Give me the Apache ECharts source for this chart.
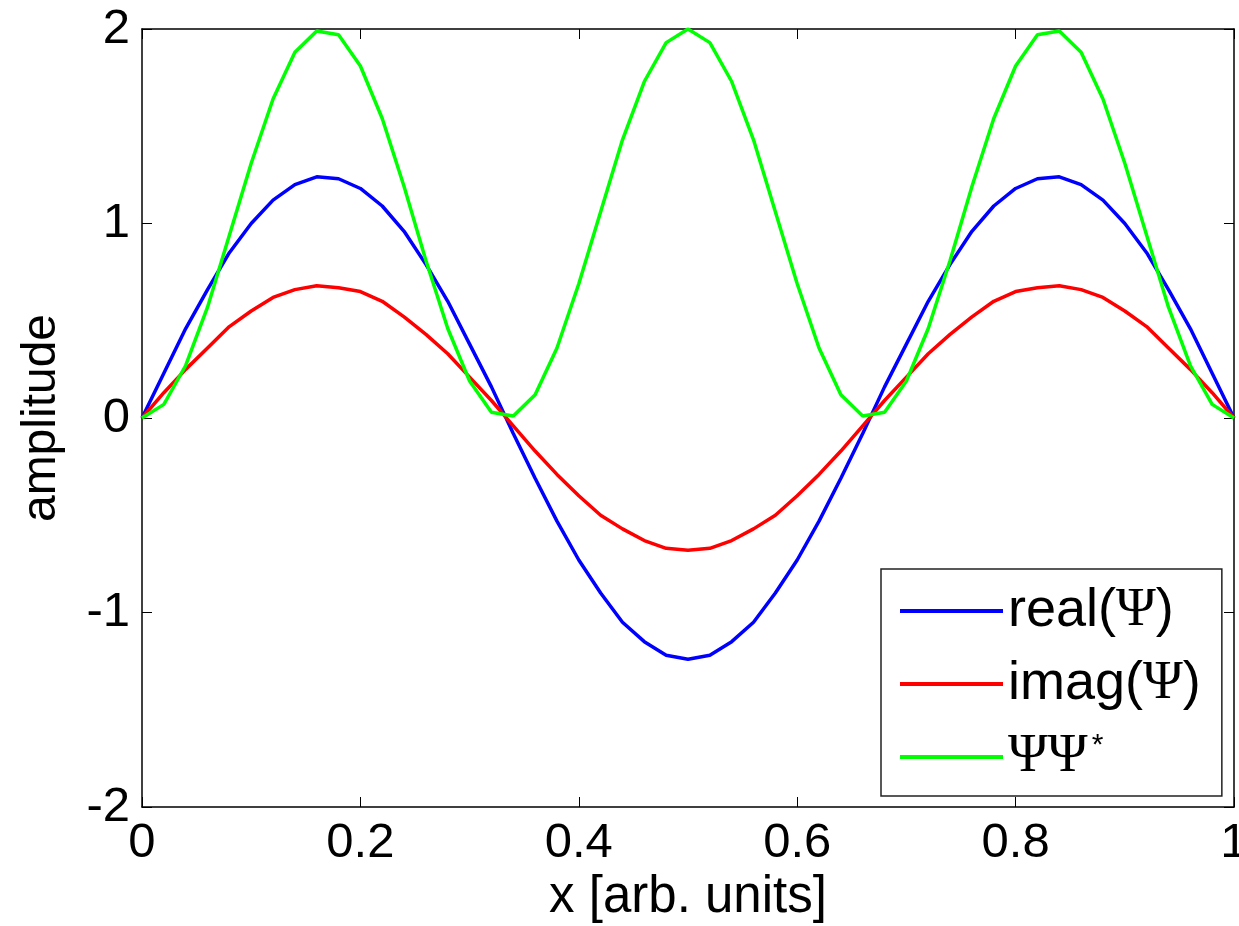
<head>
    <meta charset="UTF-8">
    <title>Echarts</title>
    <script type="text/javascript" src="https://cdn.jsdelivr.net/npm/echarts@6/dist/echarts.min.js"></script>
</head>
<body style="margin:0;background:#fff;">
    <div id="main" style="width: 1239px;height:926px;"></div>
    <script type="text/javascript">
// x positions (arb. units)
var xValues = [0, 0.02, 0.04, 0.06, 0.08, 0.10, 0.12, 0.14, 0.16, 0.18, 0.20, 0.22, 0.24, 0.26, 0.28, 0.30, 0.32, 0.34,
  0.36, 0.38, 0.40, 0.42, 0.44, 0.46, 0.48, 0.50, 0.52, 0.54, 0.56, 0.58, 0.60, 0.62, 0.64, 0.66,
  0.68, 0.70, 0.72, 0.74, 0.76, 0.78, 0.80, 0.82, 0.84, 0.86, 0.88, 0.90, 0.92, 0.94, 0.96, 0.98, 1.00];

var realPsi = [0, 0.23, 0.46, 0.66, 0.85, 1.00, 1.12, 1.20, 1.24, 1.23, 1.18, 1.09, 0.96, 0.79, 0.60, 0.38, 0.16, -0.08,
  -0.31, -0.53, -0.73, -0.90, -1.05, -1.15, -1.22, -1.24, -1.22, -1.15, -1.05, -0.90, -0.73, -0.53, -0.31, -0.08,
  0.16, 0.38, 0.60, 0.79, 0.96, 1.09, 1.18, 1.23, 1.24, 1.20, 1.12, 1.00, 0.85, 0.66, 0.46, 0.23, 0];

var imagPsi = [0, 0.13, 0.25, 0.36, 0.47, 0.55, 0.62, 0.66, 0.68, 0.67, 0.65, 0.60, 0.52, 0.43, 0.33, 0.21, 0.09, -0.04,
  -0.17, -0.29, -0.40, -0.50, -0.57, -0.63, -0.67, -0.68, -0.67, -0.63, -0.57, -0.50, -0.40, -0.29, -0.17, -0.04,
  0.09, 0.21, 0.33, 0.43, 0.52, 0.60, 0.65, 0.67, 0.68, 0.66, 0.62, 0.55, 0.47, 0.36, 0.25, 0.13, 0];

var psiPsiStar = [0, 0.07, 0.27, 0.57, 0.94, 1.31, 1.64, 1.88, 1.99, 1.97, 1.81, 1.54, 1.19, 0.81, 0.46, 0.19, 0.03, 0.01,
  0.12, 0.36, 0.69, 1.06, 1.43, 1.73, 1.93, 2.00, 1.93, 1.73, 1.43, 1.06, 0.69, 0.36, 0.12, 0.01,
  0.03, 0.19, 0.46, 0.81, 1.19, 1.54, 1.81, 1.97, 1.99, 1.88, 1.64, 1.31, 0.94, 0.57, 0.27, 0.07, 0];

var seriesNames = ['real(Ψ)', 'imag(Ψ)', 'ΨΨ*'];

function pairs(ys) {
  return xValues.map(function (x, i) { return [x, ys[i]]; });
}

var myChart = echarts.init(document.getElementById('main'));

var font = 'Liberation Sans, Arial, sans-serif';
var tickStyle = { show: true, inside: true, length: 10, lineStyle: { color: '#000', width: 1 } };
var lineStyle = { show: true, onZero: false, lineStyle: { color: '#000', width: 1.5 } };

option = {
  backgroundColor: '#fff',
  animation: false,
  textStyle: { fontFamily: font },
  grid: { left: 142, right: 5, top: 29, bottom: 119, outerBoundsMode: 'none', containLabel: false },
  legend: {
    orient: 'vertical',
    left: 881,
    top: 569,
    padding: [15, 21, 12, 19],
    icon: 'rect',
    itemWidth: 103,
    itemHeight: 4,
    itemGap: 19,
    backgroundColor: '#fff',
    borderColor: '#222',
    borderWidth: 1.5,
    borderRadius: 0,
    data: seriesNames,
    formatter: function (name) {
      if (name === 'real(Ψ)') return '{t|real(}{p|Ψ}{t|)}';
      if (name === 'imag(Ψ)') return '{t|imag(}{p|Ψ}{t|)}';
      return '{p|ΨΨ}{s|*}';
    },
    textStyle: {
      color: '#000',
      rich: {
        t: { fontFamily: font, fontSize: 54, lineHeight: 52, color: '#000' },
        p: { fontFamily: 'Liberation Serif, Times New Roman, serif', fontSize: 54, lineHeight: 52, color: '#000' },
        s: { fontFamily: font, fontSize: 30, lineHeight: 52, verticalAlign: 'top', padding: [0, 0, 0, 4], color: '#000' }
      }
    }
  },
  xAxis: [
    {
      type: 'value', min: 0, max: 1, interval: 0.2, position: 'bottom',
      name: 'x [arb. units]', nameLocation: 'middle', nameGap: 50,
      nameTextStyle: { fontSize: 51, color: '#000', fontFamily: font },
      axisLine: lineStyle, axisTick: tickStyle,
      axisLabel: { fontSize: 49, color: '#000', margin: 12, fontFamily: font },
      splitLine: { show: false }
    },
    {
      type: 'value', min: 0, max: 1, interval: 0.2, position: 'top',
      axisLine: lineStyle, axisTick: tickStyle,
      axisLabel: { show: false }, splitLine: { show: false }
    }
  ],
  yAxis: [
    {
      type: 'value', min: -2, max: 2, interval: 1, position: 'left',
      name: 'amplitude', nameLocation: 'middle', nameGap: 76,
      nameTextStyle: { fontSize: 48, color: '#000', fontFamily: font },
      axisLine: lineStyle, axisTick: tickStyle,
      axisLabel: { fontSize: 49, color: '#000', margin: 12, fontFamily: font },
      splitLine: { show: false }
    },
    {
      type: 'value', min: -2, max: 2, interval: 1, position: 'right',
      axisLine: lineStyle, axisTick: tickStyle,
      axisLabel: { show: false }, splitLine: { show: false }
    }
  ],
  series: [
    {
      name: seriesNames[0], type: 'line', symbol: 'none', smooth: false,
      lineStyle: { color: '#0000ff', width: 3.5 }, itemStyle: { color: '#0000ff' },
      data: pairs(realPsi)
    },
    {
      name: seriesNames[1], type: 'line', symbol: 'none', smooth: false,
      lineStyle: { color: '#ff0000', width: 3.5 }, itemStyle: { color: '#ff0000' },
      data: pairs(imagPsi)
    },
    {
      name: seriesNames[2], type: 'line', symbol: 'none', smooth: false,
      lineStyle: { color: '#00ff00', width: 3.5 }, itemStyle: { color: '#00ff00' },
      data: pairs(psiPsiStar)
    }
  ]
};

myChart.setOption(option);
    </script>
</body>
